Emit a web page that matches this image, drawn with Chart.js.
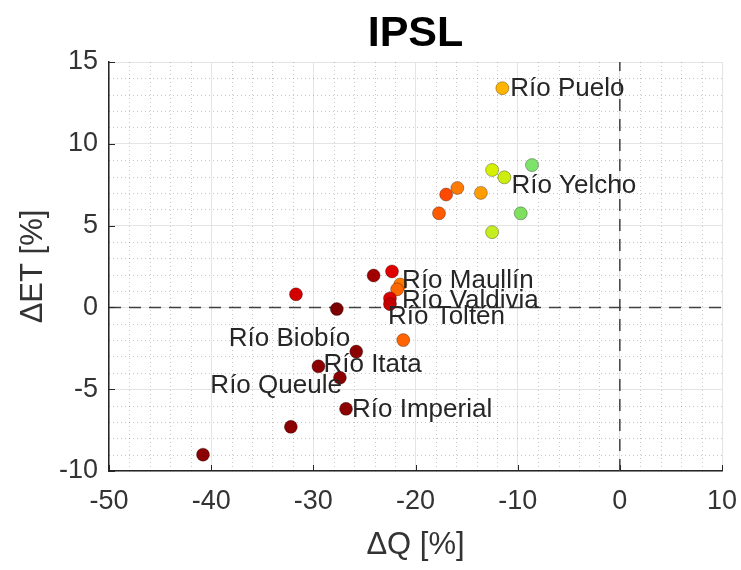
<!DOCTYPE html>
<html>
<head>
<meta charset="utf-8">
<title>IPSL</title>
<script src="https://cdn.jsdelivr.net/npm/chart.js@4.4.1/dist/chart.umd.min.js"></script>
<style>
  html, body { margin: 0; padding: 0; background: #fff; }
</style>
</head>
<body>
<canvas id="ipslChart" width="741" height="570"></canvas>
<script>
// valores (ΔQ, ΔET en %)
const dQ  = [-11.5, -8.6, -12.5, -11.3, -15.9, -17.0, -13.6, -17.7, -9.7, -12.5,
             -24.1, -22.3, -21.5, -21.8, -22.5, -22.5, -31.7, -27.7, -21.2,
             -25.8, -29.5, -27.4, -26.8, -32.2, -40.8];
const dET = [13.4, 8.7, 8.4, 7.95, 7.3, 6.9, 7.0, 5.75, 5.75, 4.6,
             1.95, 2.2, 1.4, 1.1, 0.55, 0.2, 0.8, -0.1, -2.0,
             -2.7, -3.6, -4.3, -6.2, -7.3, -9.0];
const pointColors = ["#ffb400", "#7de36a", "#d6f000", "#cdec10", "#ff7a00", "#ff4800", "#ff9c00",
                     "#ff5a00", "#7fe060", "#c4ee20", "#a00000", "#e00000", "#ff7800", "#ff6600",
                     "#dd0000", "#c40000", "#d40000", "#7d0000", "#ff6400",
                     "#8b0000", "#8b0000", "#8b0000", "#8b0000", "#8b0000", "#8b0000"];
const riverNames = ["Río Puelo", "", "", "Río Yelcho", "", "", "", "", "", "",
                    "", "", "", "Río Maullín", "Río Valdivia", "Río Toltén", "", "", "",
                    "Río Biobío", "Río Itata", "Río Queule", "Río Imperial", "", ""];
const xTickLabels = [-50, -40, -30, -20, -10, 0, 10];
const yTickLabels = [-10, -5, 0, 5, 10, 15];

const xMin = -50, xMax = 10, yMin = -10, yMax = 15;

// desplazamiento de cada etiqueta respecto a su punto (px)
const labelOffsets = {
  "Río Puelo":    [8, 1, "left"],
  "Río Yelcho":   [7, 8, "left"],
  "Río Maullín":  [5, -9, "left"],
  "Río Valdivia": [12, 2, "left"],
  "Río Toltén":   [-2, 13, "left"],
  "Río Biobío":   [-6, -13, "right"],
  "Río Itata":    [5, -1, "left"],
  "Río Queule":   [2, 8, "right"],
  "Río Imperial": [6, 1, "left"]
};

const FONT = '"Liberation Sans", Arial, sans-serif';

const decorPlugin = {
  id: "decor",
  beforeDatasetsDraw(chart) {
    const { ctx, chartArea: a, scales: { x, y } } = chart;
    ctx.save();
    // rejilla menor punteada
    ctx.strokeStyle = "rgba(0,0,0,0.22)";
    ctx.lineWidth = 1;
    ctx.setLineDash([1, 3]);
    for (let v = xMin; v <= xMax; v += 2) {
      if (v % 10 === 0) continue;
      const px = Math.round(x.getPixelForValue(v)) + 0.5;
      ctx.beginPath(); ctx.moveTo(px, a.top); ctx.lineTo(px, a.bottom); ctx.stroke();
    }
    for (let v = yMin; v <= yMax; v += 1) {
      if (v % 5 === 0) continue;
      const py = Math.round(y.getPixelForValue(v)) + 0.5;
      ctx.beginPath(); ctx.moveTo(a.left, py); ctx.lineTo(a.right, py); ctx.stroke();
    }
    ctx.restore();
  },
  afterDatasetsDraw(chart) {
    const { ctx } = chart;
    const meta = chart.getDatasetMeta(0);
    ctx.save();
    ctx.font = "26px " + FONT;
    ctx.fillStyle = "#262626";
    ctx.textBaseline = "middle";
    riverNames.forEach((name, i) => {
      if (!name) return;
      const el = meta.data[i];
      const off = labelOffsets[name] || [6, 0, "left"];
      ctx.textAlign = off[2];
      ctx.fillText(name, el.x + off[0], el.y + off[1]);
    });
    ctx.restore();
  },
  afterDraw(chart) {
    const { ctx, chartArea: a, scales: { x, y } } = chart;
    ctx.save();
    // marcas hacia adentro
    ctx.strokeStyle = "#262626";
    ctx.lineWidth = 1;
    xTickLabels.forEach(v => {
      const px = Math.round(x.getPixelForValue(v)) + 0.5;
      ctx.beginPath(); ctx.moveTo(px, a.bottom); ctx.lineTo(px, a.bottom - 6); ctx.stroke();
    });
    yTickLabels.forEach(v => {
      const py = Math.round(y.getPixelForValue(v)) + 0.5;
      ctx.beginPath(); ctx.moveTo(a.left, py); ctx.lineTo(a.left + 6, py); ctx.stroke();
    });
    // titulos
    const cx = (a.left + a.right) / 2;
    ctx.fillStyle = "#000";
    ctx.textAlign = "center";
    ctx.textBaseline = "middle";
    ctx.font = "bold 43px " + FONT;
    ctx.fillText("IPSL", cx, 34);
    ctx.fillStyle = "#333";
    ctx.font = "31px " + FONT;
    ctx.fillText("ΔQ [%]", cx, 545);
    ctx.translate(33, (a.top + a.bottom) / 2);
    ctx.rotate(-Math.PI / 2);
    ctx.fillText("ΔET [%]", 0, 0);
    ctx.restore();
  }
};

const ctx = document.getElementById("ipslChart").getContext("2d");

new Chart(ctx, {
  type: "scatter",
  data: {
    datasets: [
      {
        label: "cuencas",
        data: dQ.map((q, i) => ({ x: q, y: dET[i] })),
        backgroundColor: pointColors,
        borderColor: "rgba(0,0,0,0.3)",
        borderWidth: 1,
        pointRadius: 6.5,
        order: 0
      },
      {
        type: "line",
        label: "y0",
        data: [{ x: xMin, y: 0 }, { x: xMax, y: 0 }],
        borderColor: "#404040",
        borderWidth: 1.5,
        borderDash: [12, 8],
        pointRadius: 0,
        fill: false,
        order: 1
      },
      {
        type: "line",
        label: "x0",
        data: [{ x: 0, y: yMin }, { x: 0, y: yMax }],
        borderColor: "#404040",
        borderWidth: 1.5,
        borderDash: [12, 8],
        pointRadius: 0,
        fill: false,
        order: 1
      }
    ]
  },
  options: {
    responsive: false,
    animation: false,
    layout: { padding: { top: 62, right: 19, left: 0, bottom: 0 } },
    plugins: {
      legend: { display: false },
      tooltip: { enabled: false },
      title: { display: false }
    },
    scales: {
      x: {
        type: "linear",
        min: xMin,
        max: xMax,
        afterFit: s => { s.height = 99; s.paddingRight = 0; s.paddingLeft = 0; },
        ticks: {
          stepSize: 10,
          padding: 14,
          color: "#333",
          font: { family: FONT, size: 27 },
          callback: v => xTickLabels.includes(v) ? v : ""
        },
        grid: { color: "#e4e4e4", lineWidth: 1, drawTicks: false },
        border: { color: "#262626", width: 1.5 }
      },
      y: {
        type: "linear",
        min: yMin,
        max: yMax,
        afterFit: s => { s.width = 109; s.paddingTop = 0; s.paddingBottom = 0; },
        ticks: {
          stepSize: 5,
          padding: 11,
          color: "#333",
          font: { family: FONT, size: 27 },
          callback: v => yTickLabels.includes(v) ? v : ""
        },
        grid: { color: "#e4e4e4", lineWidth: 1, drawTicks: false },
        border: { color: "#262626", width: 1.5 }
      }
    }
  },
  plugins: [decorPlugin]
});
</script>
</body>
</html>
